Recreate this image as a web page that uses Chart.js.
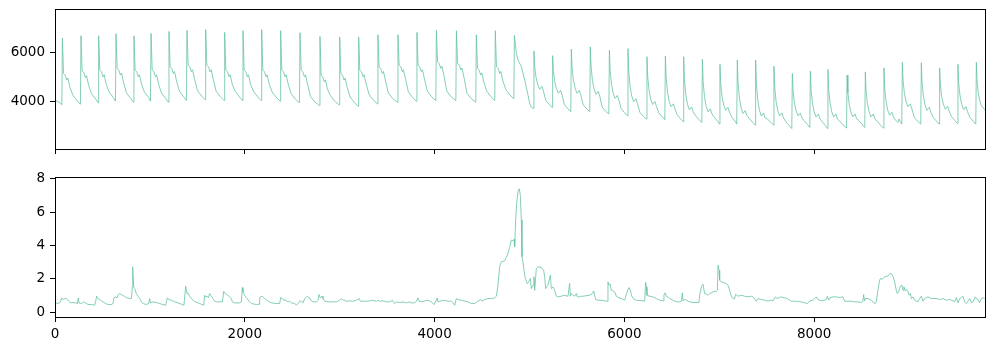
<!DOCTYPE html>
<html><head><meta charset="utf-8">
<script src="https://cdn.jsdelivr.net/npm/chart.js@4.4.1/dist/chart.umd.min.js"></script>
<style>
html,body{margin:0;padding:0;background:#fff;}
#wrap{position:relative;width:994px;height:351px;background:#fff;}
#c1{position:absolute;left:0;top:0;}
#c2{position:absolute;left:0;top:165px;}
</style></head><body>
<div id="wrap"><canvas id="c1" width="994" height="165"></canvas><canvas id="c2" width="994" height="186"></canvas></div>
<script>
// ---------- data ----------
const xTicks = [0, 2000, 4000, 6000, 8000];
const topYTicks = [4000, 6000];
const botYTicks = [0, 2, 4, 6, 8];

const topX = [
0,30,55,72,
78,90,108,124,136,158,188,233,268,
274,286,304,320,332,354,384,429,454,
460,472,490,506,518,540,570,615,637,
643,655,673,689,701,723,753,798,826,
832,844,862,878,890,912,942,987,1006,
1012,1024,1042,1058,1070,1092,1122,1167,1195,
1201,1213,1231,1247,1259,1281,1311,1356,1385,
1391,1403,1421,1437,1449,1471,1501,1546,1582,
1588,1600,1618,1634,1646,1668,1698,1743,1782,
1788,1800,1818,1834,1846,1868,1898,1943,1975,
1981,1993,2011,2027,2039,2061,2091,2136,2172,
2178,2190,2208,2224,2236,2258,2288,2333,2372,
2378,2390,2408,2424,2436,2458,2488,2533,2576,
2582,2594,2612,2628,2640,2662,2692,2737,2786,
2792,2804,2822,2838,2850,2872,2902,2947,2994,
3000,3012,3030,3046,3058,3080,3110,3155,3194,
3200,3212,3230,3246,3258,3280,3310,3355,3397,
3403,3415,3433,3449,3461,3483,3513,3558,3608,
3614,3626,3644,3660,3672,3694,3724,3769,3808,
3814,3826,3844,3860,3872,3894,3924,3969,4013,
4019,4031,4049,4065,4077,4099,4129,4174,4224,
4230,4242,4260,4276,4288,4310,4340,4385,4434,
4440,4452,4470,4486,4498,4520,4550,4595,4634,
4640,4652,4670,4686,4698,4720,4750,4795,4835,
4841,4862,4879,4915,4950,4985,5003,5020,5041,
5047,5055,5069,5087,5107,5131,5147,5172,5207,5238,
5244,5252,5266,5284,5304,5328,5344,5369,5404,5435,
5441,5449,5463,5481,5501,5525,5541,5566,5601,5635,
5641,5649,5663,5681,5701,5725,5741,5766,5801,5836,
5842,5850,5864,5882,5902,5926,5942,5967,6002,6032,
6038,6046,6060,6078,6098,6122,6138,6163,6198,6232,
6238,6246,6260,6278,6298,6322,6338,6363,6398,6426,
6432,6440,6454,6472,6492,6516,6532,6557,6592,6619,
6625,6633,6647,6665,6685,6709,6725,6750,6785,6816,
6822,6830,6844,6862,6882,6906,6922,6947,6982,7001,
7007,7015,7029,7047,7067,7091,7107,7132,7167,7184,
7190,7198,7212,7230,7250,7274,7290,7315,7350,7377,
7383,7391,7405,7423,7443,7467,7483,7508,7543,7570,
7576,7584,7598,7616,7636,7660,7676,7701,7736,7764,
7770,7778,7792,7810,7830,7854,7870,7895,7930,7954,
7960,7968,7982,8000,8020,8044,8060,8085,8120,8139,
8145,8153,8167,8185,8205,8229,8245,8270,8305,8341,
8347,8355,8369,8387,8407,8431,8447,8472,8507,8533,
8539,8547,8561,8579,8599,8623,8639,8664,8699,8729,
8735,8743,8757,8775,8795,8819,8835,8860,8880,8895,8912,8923,
8929,8937,8951,8969,8989,9013,9029,9054,9089,9123,
9129,9137,9151,9169,9189,9213,9229,9254,9289,9316,
9322,9330,9344,9362,9382,9406,9422,9447,9482,9509,
9515,9523,9537,9555,9575,9599,9615,9640,9675,9703,
9709,9717,9731,9745,9762,9799
];
const topY = [
4042,4000,3950,3864,
6596,5147,5077,4877,4957,4567,4269,4039,3889,
6691,5250,5180,4980,5060,4670,4327,4097,3947,
6691,5284,5214,5014,5094,4704,4393,4163,4013,
6774,5354,5284,5084,5164,4774,4352,4122,3972,
6691,5284,5214,5014,5094,4704,4393,4163,4013,
6787,5284,5214,5014,5094,4704,4352,4122,3972,
6869,5420,5350,5150,5230,4840,4422,4192,4042,
6911,5490,5420,5220,5300,4910,4451,4221,4071,
6940,5490,5420,5220,5300,4910,4422,4192,4042,
6828,5284,5214,5014,5094,4704,4422,4192,4042,
6898,5284,5214,5014,5094,4704,4422,4192,4042,
6940,5284,5214,5014,5094,4704,4393,4163,4013,
6898,5284,5214,5014,5094,4704,4327,4097,3947,
6816,5284,5214,5014,5094,4704,4215,3985,3835,
6662,5077,5007,4807,4887,4497,4244,4014,3864,
6637,5147,5077,4877,4957,4567,4186,3956,3806,
6637,5284,5214,5014,5094,4704,4285,4055,3905,
6733,5420,5350,5150,5230,4840,4352,4122,3972,
6733,5490,5420,5220,5300,4910,4393,4163,4013,
6828,5490,5420,5220,5300,4910,4422,4192,4042,
6911,5627,5557,5357,5437,5047,4422,4192,4042,
6898,5561,5491,5291,5371,4981,4352,4122,3972,
6733,5354,5284,5084,5164,4774,4422,4192,4042,
6898,5420,5350,5150,5230,4840,4492,4262,4112,
6704,5975,5698,5420,4870,4249,3905,3764,3720,
6070,5418,4983,4693,4501,4621,4421,4044,3884,3764,
5876,5237,4811,4527,4336,4456,4256,3866,3706,3586,
6141,5383,4877,4540,4336,4456,4256,3866,3706,3586,
6236,5416,4870,4505,4294,4414,4214,3771,3611,3491,
6099,5267,4712,4342,4129,4249,4049,3701,3541,3421,
6166,5242,4626,4215,3992,4112,3912,3564,3404,3284,
5834,5009,4459,4092,3880,4000,3800,3535,3375,3255,
5863,4982,4395,4003,3785,3905,3705,3452,3292,3172,
5834,4909,4293,3882,3659,3779,3579,3423,3263,3143,
5727,4814,4205,3799,3578,3698,3498,3357,3197,3077,
5520,4730,4203,3852,3644,3764,3564,3357,3197,3077,
5698,4767,4146,3732,3508,3628,3428,3316,3156,3036,
5698,4723,4074,3640,3412,3532,3332,3276,3156,3036,
5449,4586,4011,3628,3412,3532,3332,3175,3015,2895,
5147,4420,3936,3613,3412,3532,3332,3216,3056,2936,
5242,4454,3929,3579,3371,3491,3291,3175,3015,2895,
5313,4493,3947,3582,3371,3491,3291,3195,3035,2915,
5077,4363,3888,3570,3371,3491,3291,3216,3056,2936,
5213,4438,3922,3577,3371,3491,3291,3192,3032,2912,
5379,4560,4015,3650,3440,3560,3360,3230,3150,3284,3140,3077,
5603,4839,4330,3990,3785,3905,3705,3357,3197,3077,
5586,4766,4220,3855,3644,3764,3564,3357,3197,3077,
5379,4671,4199,3885,3686,3806,3606,3382,3222,3102,
5520,4743,4225,3879,3673,3793,3593,3357,3197,3077,
5603,4800,4300,4040,3835,3650
];

const botX = [
0,32,57,71,85,102,120,144,162,190,
218,236,246,253,278,302,323,348,383,418,
429,439,453,471,489,506,534,559,594,611,
622,640,654,668,682,699,724,752,787,805,
815,819,829,840,857,875,892,910,928,963,
987,998,1005,1033,1068,1103,1138,1166,1184,1198,
1226,1261,1296,1331,1359,1377,1391,1402,1419,1437,
1465,1496,1525,1549,1567,1577,1588,1602,1616,1630,
1648,1665,1683,1700,1735,1764,1778,1795,1813,1834,
1858,1869,1893,1946,1964,1974,1981,1999,2016,2045,
2069,2122,2150,2157,2164,2185,2210,2245,2280,2333,
2368,2378,2396,2410,2431,2455,2473,2491,2526,2544,
2561,2578,2596,2614,2631,2649,2666,2684,2701,2719,
2754,2772,2782,2796,2814,2824,2842,2877,2930,2965,
3000,3017,3028,3053,3070,3105,3140,3176,3204,3218,
3246,3281,3316,3351,3386,3404,3421,3456,3492,3527,
3555,3579,3597,3632,3667,3703,3730,3755,3790,3808,
3825,3836,3860,3896,3931,3966,3994,4018,4025,4036,
4071,4106,4141,4176,4194,4212,4229,4247,4282,4317,
4352,4387,4422,4457,4486,4500,4528,4563,4598,4633,
4651,4668,4686,4703,4738,4756,4773,4791,4809,4826,
4837,4844,4854,4865,4879,4893,4903,4914,4921,4931,
4942,4956,4977,4991,5009,5019,5037,5047,5055,5072,
5090,5125,5135,5149,5160,5170,5195,5220,5230,5248,
5265,5283,5300,5336,5364,5406,5423,5430,5441,5458,
5476,5494,5504,5528,5546,5564,5634,5662,5676,5687,
5697,5722,5757,5792,5820,5827,5838,5852,5862,5880,
5898,5915,5943,5968,6003,6021,6038,6049,6063,6074,
6091,6126,6196,6214,6224,6231,6238,6266,6301,6336,
6372,6407,6417,6428,6442,6459,6477,6512,6547,6582,
6600,6611,6618,6635,6653,6688,6723,6786,6793,6811,
6828,6846,6864,6881,6899,6934,6969,6980,6987,6997,
7004,7022,7057,7074,7092,7109,7127,7144,7162,7172,
7197,7232,7267,7302,7338,7355,7390,7408,7443,7478,
7513,7541,7566,7591,7612,7647,7689,7717,7759,7812,
7865,7900,7928,7952,7987,8022,8040,8057,8092,8128,
8138,8153,8163,8198,8233,8268,8303,8321,8356,8391,
8426,8461,8496,8514,8521,8531,8542,8567,8602,8630,
8644,8654,8672,8690,8700,8718,8735,8760,8777,8795,
8812,8830,8848,8865,8876,8890,8908,8925,8936,8946,
8960,8975,8989,9000,9014,9024,9042,9059,9077,9094,
9112,9129,9147,9164,9199,9234,9287,9322,9357,9392,
9428,9463,9480,9498,9515,9533,9550,9568,9585,9603,
9620,9638,9656,9673,9698,9708,9726,9743,9761,9779,9796
];
const botY = [
0.57,0.51,0.61,0.85,0.75,0.81,0.81,0.67,0.55,0.57,
0.55,0.51,0.85,0.55,0.51,0.61,0.55,0.45,0.45,0.41,
0.65,0.95,0.81,0.75,0.67,0.61,0.51,0.45,0.45,0.51,
0.87,0.91,0.85,1.07,1.11,1.05,0.97,0.87,0.81,0.81,
1.51,2.72,1.51,1.41,1.11,0.95,0.81,0.61,0.51,0.45,
0.51,0.81,0.55,0.61,0.57,0.51,0.45,0.41,0.85,0.75,
0.71,0.61,0.55,0.47,0.41,1.55,1.11,1.15,0.95,0.81,
0.65,0.57,0.51,0.45,0.41,1.01,0.91,0.95,0.85,1.11,
0.95,0.8,0.65,0.61,0.61,0.61,1.24,1.11,1.05,0.95,
0.81,0.61,0.55,0.55,0.61,1.47,1.21,1.01,0.87,0.65,
0.51,0.45,0.47,0.85,0.91,0.95,0.81,0.65,0.55,0.51,
0.51,0.87,0.81,0.71,0.71,0.61,0.65,0.55,0.51,0.41,
0.51,0.65,0.65,0.55,0.81,0.91,0.91,0.85,0.67,0.61,
0.61,0.71,1.05,0.85,0.95,0.81,0.65,0.61,0.61,0.61,
0.71,0.81,0.75,0.71,0.65,0.67,0.65,0.71,0.81,0.65,
0.65,0.65,0.67,0.71,0.65,0.71,0.65,0.67,0.61,0.61,
0.71,0.51,0.61,0.57,0.61,0.55,0.61,0.55,0.55,0.65,
0.85,0.65,0.61,0.67,0.71,0.61,0.45,0.71,0.85,0.61,
0.67,0.71,0.65,0.65,0.55,0.41,0.81,0.75,0.71,0.65,
0.61,0.51,0.51,0.65,0.75,0.65,0.75,0.81,0.81,0.85,
0.95,1.61,2.72,3.02,3.08,3.29,3.53,3.89,4.33,4.29,
4.37,3.93,5.54,6.55,7.25,7.41,7.05,5.54,3.33,3.02,
2.52,2.02,1.71,1.81,2.02,1.41,1.61,2.12,1.31,2.62,
2.72,2.68,2.58,2.52,2.12,1.41,1.61,2.22,1.41,1.51,
1.31,0.95,0.91,0.95,1.01,0.95,1.71,0.95,1.11,1.01,
0.95,1.11,0.91,0.91,0.95,0.95,1.01,1.11,1.27,1.01,
0.75,0.71,0.71,0.67,0.65,1.81,1.61,1.67,1.31,1.27,
1.21,0.95,0.85,0.81,0.71,1.07,1.35,1.47,1.31,1.01,
0.81,0.71,0.67,0.65,1.78,1.51,1.01,0.95,0.91,0.81,
0.71,0.67,1.01,1.15,0.95,0.91,0.81,0.71,0.61,0.61,
0.65,1.15,0.67,0.75,0.71,0.61,0.57,0.57,1.01,1.51,
1.67,1.11,1.07,1.01,1.11,1.21,1.25,1.31,2.82,2.52,
1.92,1.81,1.75,1.71,1.61,1.31,0.95,0.81,0.81,1.07,
0.95,1.01,0.95,0.91,0.95,0.91,0.65,0.81,0.75,0.71,
0.65,0.71,0.67,0.91,0.81,0.91,0.85,0.81,0.65,0.65,
0.61,0.55,0.51,0.67,0.71,0.91,0.75,0.71,0.67,0.75,
0.95,0.71,0.85,0.91,0.91,0.87,0.91,0.65,0.65,0.65,
0.61,0.61,0.57,0.65,1.05,0.67,0.81,0.81,0.71,0.55,
0.51,0.61,1.31,1.92,2.02,1.97,2.08,2.16,2.16,2.28,
2.32,2.16,1.81,1.31,1.11,1.21,1.55,1.61,1.31,1.51,
1.27,1.35,1.21,1.01,1.11,0.81,0.91,0.71,0.65,0.61,
0.81,0.95,0.65,0.81,0.91,0.81,0.81,0.75,0.81,0.71,
0.75,0.67,0.61,0.87,0.55,0.81,0.87,0.95,0.61,0.51,
0.65,0.81,0.55,0.61,0.91,0.81,0.75,0.55,0.81,0.85,0.81
];

// ---------- styling ----------
const LINE = '#66c2a5';
const FONT = {family: '"DejaVu Sans", sans-serif', size: 13.5};

const frame = {
  id: 'frame',
  afterDraw(chart) {
    const a = chart.chartArea, c = chart.ctx;
    c.save();
    c.strokeStyle = '#000';
    c.lineWidth = 1;
    c.strokeRect(Math.round(a.left) + 0.5, Math.round(a.top) + 0.5,
                 Math.round(a.right - a.left), Math.round(a.bottom - a.top));
    c.restore();
  }
};

function zip(xs, ys) {
  const n = Math.min(xs.length, ys.length);
  const out = [];
  for (let i = 0; i < n; i++) out.push({x: xs[i], y: ys[i]});
  return out;
}

function makeChart(id, xs, ys, yMin, yMax, yTicks, cfg) {
  return new Chart(document.getElementById(id), {
    type: 'line',
    data: {datasets: [{
      data: zip(xs, ys), borderColor: LINE, borderWidth: 0.8,
      pointRadius: 0, fill: false, tension: 0
    }]},
    options: {
      responsive: false, animation: false, events: [],
      plugins: {legend: {display: false}, tooltip: {enabled: false}},
      layout: {padding: {left: 0, right: 9, top: cfg.padTop, bottom: 0}},
      scales: {
        x: {
          type: 'linear', min: 0, max: 9800,
          afterBuildTicks: a => { a.ticks = xTicks.map(v => ({value: v})); },
          afterFit: a => { a.height = cfg.xh; a.paddingLeft = 0; a.paddingRight = 0; },
          ticks: {autoSkip: false, maxRotation: 0, font: FONT,
                  color: cfg.showX ? '#000' : 'rgba(0,0,0,0)', padding: 4,
                  callback: v => String(v)},
          grid: {drawOnChartArea: false, drawTicks: true, tickLength: 5, color: '#000', lineWidth: 1},
          border: {display: true, color: '#000', width: 1}
        },
        y: {
          type: 'linear', min: yMin, max: yMax,
          afterBuildTicks: a => { a.ticks = yTicks.map(v => ({value: v})); },
          afterFit: a => { a.width = 55; a.paddingTop = 0; a.paddingBottom = 0; },
          ticks: {autoSkip: false, font: FONT, color: '#000', padding: 5,
                  callback: v => String(v)},
          grid: {drawOnChartArea: false, drawTicks: true, tickLength: 5, color: '#000', lineWidth: 1},
          border: {display: true, color: '#000', width: 1}
        }
      }
    },
    plugins: [frame]
  });
}

makeChart('c1', topX, topY, 2057, 7787, topYTicks, {padTop: 9, xh: 16, showX: false});
makeChart('c2', botX, botY, -0.30, 8.12, botYTicks, {padTop: 12, xh: 34, showX: true});
</script>
</body></html>
